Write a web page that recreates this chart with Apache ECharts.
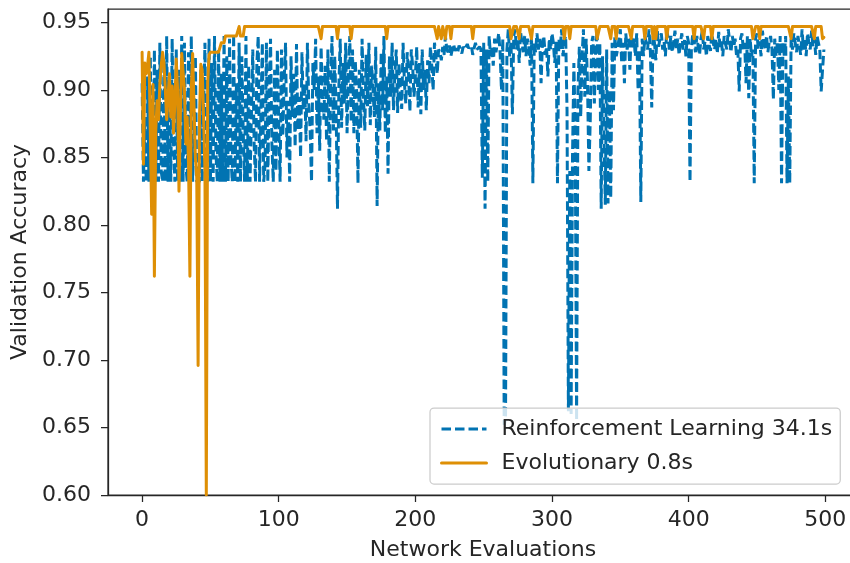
<!DOCTYPE html>
<html>
<head>
<meta charset="utf-8">
<script src="https://cdn.jsdelivr.net/npm/echarts@6/dist/echarts.min.js"></script>
<style>
  html, body { margin: 0; padding: 0; background: #ffffff; }
  #chart { width: 850px; height: 563px; }
</style>
</head>
<body>
<div id="chart"></div>
<script>
// Validation accuracy per network evaluation (values in thousandths), one entry per evaluation 0..499
const rlAccuracy = [
  905,832,880,832,910,832,925,845,832,930,
  832,915,832,935,840,832,922,832,940,832,
  900,832,938,860,832,930,832,915,832,940,
  832,935,845,832,928,832,940,832,870,925,
  832,832,832,915,832,832,935,840,832,938,
  832,920,832,940,855,832,930,832,912,832,
  940,832,925,832,938,850,832,941,832,905,
  832,935,832,925,870,832,940,832,918,832,
  832,930,860,832,920,940,832,885,935,832,
  845,935,832,900,938,860,832,915,840,930,
  875,832,930,866,908,935,850,892,832,925,
  880,912,858,934,870,895,850,928,885,905,
  862,935,890,870,832,920,900,938,868,910,
  855,932,895,878,918,862,930,832,905,940,
  870,925,885,812,902,938,872,920,890,935,
  868,912,940,876,930,868,922,900,831,915,
  872,938,895,870,926,888,935,874,918,900,
  880,932,814,905,870,928,885,940,868,910,
  838,925,895,935,885,912,930,883,920,900,
  886,935,905,890,928,912,884,930,918,895,
  910,932,887,920,882,930,900,915,885,922,
  905,932,918,900,935,925,912,930,928,922,
  932,926,940,930,928,933,925,930,934,929,
  931,928,933,930,927,932,930,929,934,931,
  930,933,926,931,935,930,929,932,930,835,
  935,812,930,832,940,925,932,918,938,928,
  935,942,928,900,938,652,656,930,945,925,
  936,882,940,945,930,938,920,943,935,928,
  940,925,938,932,918,940,831,935,928,942,
  930,938,905,935,940,926,932,910,938,930,
  942,935,920,936,831,938,930,945,925,936,
  940,885,662,840,660,850,920,870,655,900,
  932,880,925,945,895,938,905,840,878,935,
  940,890,930,945,900,935,812,925,870,815,
  930,816,900,820,935,885,940,925,930,938,
  945,920,935,905,942,930,938,915,945,930,
  938,925,942,900,930,817,938,925,940,935,
  930,945,928,887,940,935,922,945,932,938,
  942,930,936,925,945,938,930,940,928,935,
  944,930,938,926,935,942,930,937,925,940,
  935,832,930,942,936,928,940,932,926,938,
  944,930,936,925,940,933,929,942,935,930,
  938,927,943,932,936,925,940,934,930,945,
  936,928,940,932,938,926,930,899,938,942,
  930,935,905,940,894,938,925,930,831,938,
  942,930,936,925,944,935,930,940,928,936,
  940,930,893,938,925,936,900,940,831,935,
  925,940,831,910,831,938,930,942,935,928,
  940,933,926,945,930,938,925,942,935,930,
  944,932,938,926,940,935,930,899,915,930
];

const evoAccuracy = [
  928,845,920,912,918,928,870,808,904,762,
  870,892,878,905,918,928,920,900,878,895,
  912,880,903,868,890,923,900,825,880,927,
  926,900,860,880,845,762,900,927,926,850,
  835,696,880,919,915,880,840,600,905,926,
  928,928,928,928,928,928,928,928,935,935,
  935,940,940,940,940,940,940,940,940,940,
  940,947,940,940,940,947,947,947,947,947,
  947,947,947,947,947,947,947,947,947,947,
  947,947,947,947,947,947,947,947,947,947,
  947,947,947,947,947,947,947,947,947,947,
  947,947,947,947,947,947,947,947,947,947,
  947,947,947,947,947,947,947,947,947,947,
  947,938,947,947,947,947,947,947,947,947,
  947,947,947,938,947,947,947,947,947,947,
  947,947,947,938,947,947,947,947,947,947,
  947,947,947,947,947,947,947,947,947,947,
  947,947,947,947,947,947,947,947,947,938,
  947,947,947,947,947,947,947,947,947,947,
  947,947,947,947,947,947,947,947,947,947,
  947,947,947,947,947,947,947,947,947,947,
  947,947,947,947,947,947,938,947,947,938,
  947,947,938,947,947,947,938,947,947,947,
  947,947,947,947,947,947,947,947,947,947,
  947,947,938,947,947,947,947,947,947,947,
  947,947,947,947,947,947,947,947,947,947,
  947,947,947,947,947,947,947,947,947,947,
  938,938,947,947,947,947,938,947,947,947,
  947,947,947,947,947,938,947,947,947,947,
  947,947,947,947,947,947,947,947,947,947,
  947,947,947,947,947,947,947,947,947,938,
  947,947,947,938,947,947,947,947,947,947,
  947,947,947,947,947,947,947,947,947,947,
  947,947,947,938,938,947,947,947,947,947,
  947,947,947,938,947,947,947,938,947,947,
  947,947,947,947,947,947,947,947,938,947,
  947,947,947,947,947,947,947,947,938,947,
  947,947,947,947,938,947,938,947,947,947,
  947,947,947,947,938,947,947,947,947,947,
  947,947,947,947,947,947,947,947,947,947,
  947,947,947,947,938,947,947,947,947,947,
  947,938,947,947,947,947,947,938,947,947,
  947,947,947,947,947,947,947,947,947,947,
  947,947,947,947,947,947,947,947,947,947,
  947,947,947,947,947,947,947,938,938,947,
  947,947,938,947,947,947,947,947,947,947,
  947,947,947,947,947,947,947,947,947,947,
  947,947,947,947,947,938,947,947,947,947,
  947,947,947,947,947,947,947,947,947,947,
  947,947,938,947,947,947,947,947,938,939
];

const xTicks = [0, 100, 200, 300, 400, 500];
const yTicks = [0.60, 0.65, 0.70, 0.75, 0.80, 0.85, 0.90, 0.95];
const seriesNames = ['Reinforcement Learning 34.1s', 'Evolutionary 0.8s'];

const toPoints = arr => arr.map((v, i) => [i, v / 1000]);

const ink = '#262626';
const font = 'DejaVu Sans';
const fontSize = 22;

const chart = echarts.init(document.getElementById('chart'), null, { renderer: 'canvas' });

chart.setOption({
  animation: false,
  backgroundColor: '#ffffff',
  grid: {
    left: 108, top: 9, bottom: 68, right: -8,
    outerBoundsMode: 'none',
    containLabel: false,
    show: true, borderColor: ink, borderWidth: 1.25, backgroundColor: 'transparent'
  },
  xAxis: {
    type: 'value',
    min: -24.95, max: 523.95,
    name: 'Network Evaluations',
    nameLocation: 'middle',
    nameGap: 44,
    nameTextStyle: { fontFamily: font, fontSize: fontSize, color: ink },
    axisLine: { show: true, onZero: false, lineStyle: { color: ink, width: 1.25 } },
    axisTick: { show: true, length: 7, lineStyle: { color: ink, width: 1.25 }, customValues: xTicks },
    axisLabel: { fontFamily: font, fontSize: fontSize, color: ink, margin: 14, customValues: xTicks },
    splitLine: { show: false }
  },
  yAxis: {
    type: 'value',
    min: 0.60, max: 0.96,
    name: 'Validation Accuracy',
    nameLocation: 'middle',
    nameGap: 74,
    nameTextStyle: { fontFamily: font, fontSize: fontSize, color: ink },
    axisLine: { show: true, onZero: false, lineStyle: { color: ink, width: 1.25 } },
    axisTick: { show: true, length: 7, lineStyle: { color: ink, width: 1.25 }, customValues: yTicks },
    axisLabel: {
      fontFamily: font, fontSize: fontSize, color: ink, margin: 17,
      customValues: yTicks,
      formatter: v => v.toFixed(2)
    },
    splitLine: { show: false }
  },
  legend: {
    left: 430, top: 408,
    orient: 'vertical',
    data: seriesNames,
    itemWidth: 45, itemHeight: 14, itemGap: 10,
    padding: [9, 8, 9, 10],
    backgroundColor: 'rgba(255,255,255,0.8)',
    borderColor: '#cccccc', borderWidth: 1.25, borderRadius: 4,
    itemStyle: { color: 'rgba(0,0,0,0)', borderWidth: 0, opacity: 0 },
    lineStyle: { width: 3 },
    textStyle: { fontFamily: font, fontSize: fontSize, color: ink, lineHeight: 24, padding: [0, 0, 0, 10] }
  },
  series: [
    {
      name: seriesNames[0],
      type: 'line',
      data: toPoints(rlAccuracy),
      showSymbol: false, symbol: 'none',
      color: '#0173b2',
      lineStyle: { color: '#0173b2', width: 3, type: [9.5, 4], cap: 'butt' },
      clip: true, z: 2
    },
    {
      name: seriesNames[1],
      type: 'line',
      data: toPoints(evoAccuracy),
      showSymbol: false, symbol: 'none',
      color: '#de8f05',
      lineStyle: { color: '#de8f05', width: 3, type: 'solid', cap: 'round', join: 'round' },
      clip: true, z: 3
    }
  ]
});
</script>
</body>
</html>
